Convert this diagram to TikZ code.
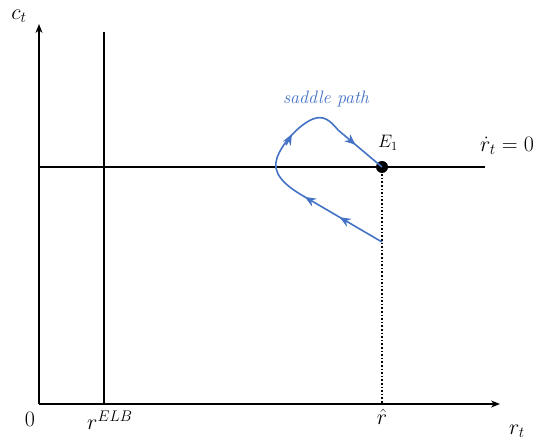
\RequirePackage{fix-cm}
\documentclass[tikz,border=0pt]{standalone}
\usetikzlibrary{arrows.meta,decorations.markings}
\definecolor{sblue}{HTML}{4472C4}
\begin{document}
\begin{tikzpicture}[x=1pt,y=-1pt,
  axis/.style={line width=1.6pt,-{Stealth[length=9pt,width=7pt]}},
  curve/.style={line width=1.6pt},
  lbl/.style={font=\fontsize{22}{26}\selectfont,inner sep=0pt},
  mid/.style={postaction={decorate},decoration={markings,
     mark=at position #1 with {\arrow{Stealth[length=11pt,width=9pt]}}}}]
\useasboundingbox (0,0) rectangle (537,443);
\coordinate (O) at (39,404);
\coordinate (Ytop) at (39,24);
\coordinate (Xend) at (500,404);
\coordinate (Ebot) at (104,404);
\coordinate (Etop) at (104,32);
\coordinate (Hl) at (39,167);
\coordinate (Hr) at (485,167);
\coordinate (Rhat) at (382,404);
\coordinate (S) at (382,242);
\draw[axis] (O) -- (Ytop);
\draw[axis] (O) -- (Xend);
\draw[curve] (Ebot) -- (Etop);
\draw[curve] (Hl) -- (Hr);
\node[circle,fill=black,inner sep=0pt,minimum size=12pt] (E) at (382,167) {};
\draw[line width=1.6pt,dotted] (E.center) -- (Rhat);
\begin{scope}[sblue,line width=1.6pt]
\draw[mid=0.55] (S) -- (305,197);
\draw[mid=0.1] (305,197) -- (304,196.4);
\draw (305,197) .. controls (282,184) and (272,172) .. (277,158)
  .. controls (282,143) and (300,124) .. (313,119)
  .. controls (323,115) and (330,120) .. (338,130);
\draw[-{Stealth[length=11pt,width=9pt]}] (286,145) -- (292,134);
\draw[mid=0.4] (338,130) -- (E.center);
\end{scope}
\node[lbl] (ct) at (19,16) {$c_t$};
\node[lbl] (zero) at (30,419) {$0$};
\node[lbl,anchor=west] (elb) at (87,420) {$r^{ELB}$};
\node[lbl] (rh) at (382,417) {$\hat{r}$};
\node[lbl] (rt) at (517,431) {$r_t$};
\node[lbl,anchor=south] (rdot) at (507,155) {$\dot{r}_t=0$};
\node[font=\fontsize{18}{20}\selectfont,inner sep=0pt] (E1) at (388,143) {$E_1$};
\node[font=\fontsize{18}{20}\selectfont\itshape,text=sblue,inner sep=0pt] (sp) at (326,99) {saddle path};
\end{tikzpicture}
\end{document}
